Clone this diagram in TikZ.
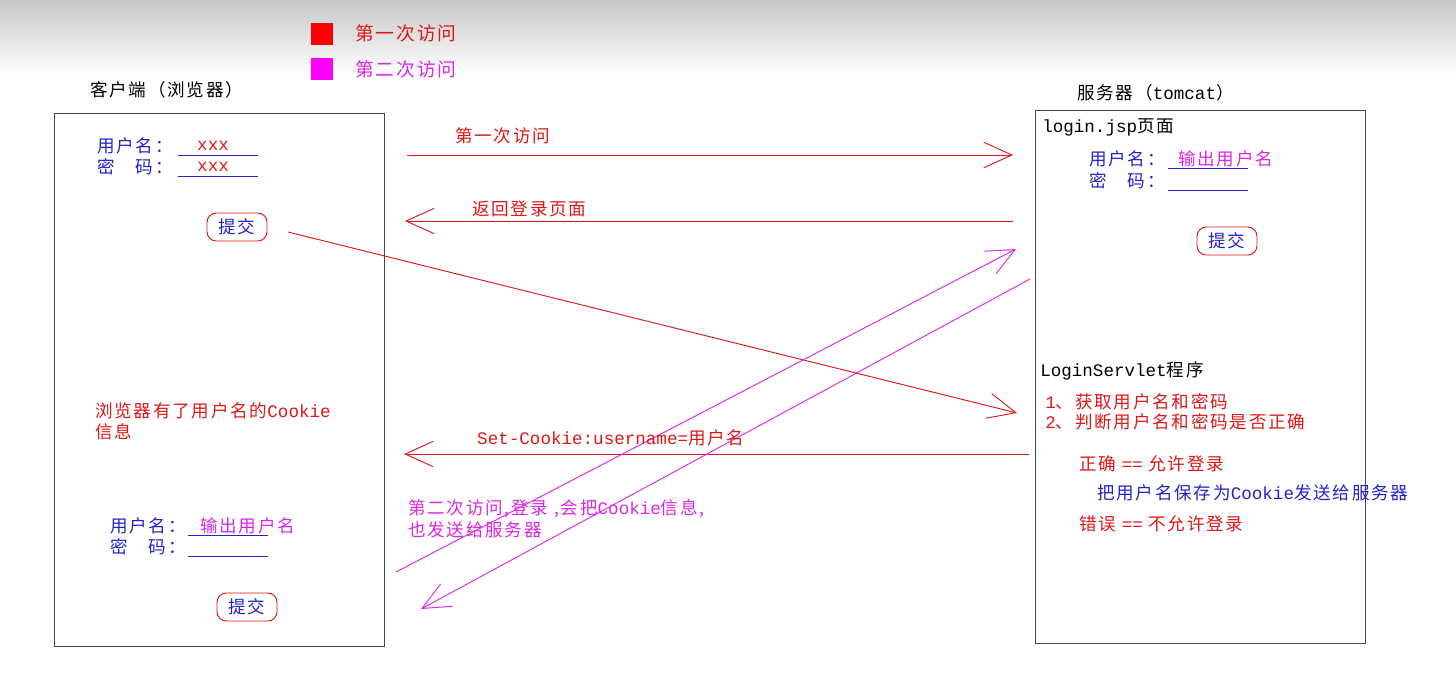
\documentclass[tikz,border=0pt]{standalone}
\usepackage{fontspec}
\setmainfont{Noto Sans CJK SC}[LetterSpace=10]
\newfontfamily\mono{Liberation Mono}
\usetikzlibrary{arrows.meta}
\definecolor{req}{RGB}{222,24,24}
\definecolor{second}{RGB}{218,40,228}
\definecolor{secondkeyfill}{RGB}{255,0,255}
\definecolor{field}{RGB}{36,36,196}
\definecolor{frame}{RGB}{72,72,72}
\tikzstyle{every picture}=[> = {Straight Barb[length=8.4mm,width=7.6mm]}]
\tikzstyle{txt}=[inner sep=0pt, anchor=west, font=\fontsize{15}{18}\selectfont]
\tikzstyle{key}=[inner sep=0pt, minimum size=6.6mm]
\tikzstyle{box}=[draw=frame, line width=0.8pt, inner sep=0pt, minimum width=9.9cm, minimum height=15.99cm]
\tikzstyle{btn}=[draw=req, line width=0.8pt, rounded corners=2.8mm, text=field, inner sep=0pt,
  minimum width=18mm, minimum height=8.4mm, font=\fontsize{15}{18}\selectfont]

\begin{document}
\begin{tikzpicture}[x=0.3mm,y=-0.3mm]
    \useasboundingbox (0,0) rectangle (1456,690);
    \fill[white] (0,0) rectangle (1456,690);
    \shade[top color=black!22,bottom color=white] (0,0) rectangle (1456,75);

    \node (firstkey) [key, fill=red] at (322,34) {};
    \node (secondkey) [key, fill=secondkeyfill] at (322,69) {};
    \node (firstkeytxt) [txt, text=req, font=\fontsize{16}{18}\selectfont] at (355,33) {第一次访问};
    \node (secondkeytxt) [txt, text=second, font=\fontsize{16}{18}\selectfont] at (355,69) {第二次访问};

    \node (clienttitle) [txt] at (90,90) {客户端（浏览器）};
    \node (servertitle) [txt] at (1077,93) {服务器（{\mono tomcat}）};
    \node (client) [box] at (219,379.5) {};
    \node (server) [box] at (1200,376.5) {};

    \node (user1) [txt, text=field] at (97,146) {用户名：};
    \node (pass1) [txt, text=field] at (97,167) {密　码：};
    \node (user1val) [txt, text=req] at (197,146) {\mono xxx};
    \node (pass1val) [txt, text=req] at (197,167) {\mono xxx};
    \draw[field, line width=0.8pt] (178,155) -- (258,155);
    \draw[field, line width=0.8pt] (178,176) -- (258,176);
    \node (submit1) [btn] at (237,227) {提交};

    \node (cookieinfo) [txt, text=req] at (95,411) {浏览器有了用户名的{\mono Cookie}};
    \node (cookieinfo2) [txt, text=req] at (95,432) {信息};
    \node (user3) [txt, text=field] at (110,526) {用户名：};
    \node (pass3) [txt, text=field] at (110,547) {密　码：};
    \node (user3val) [txt, text=second] at (200,526) {输出用户名};
    \draw[field, line width=0.8pt] (188,535) -- (268,535);
    \draw[field, line width=0.8pt] (188,556) -- (268,556);
    \node (submit3) [btn] at (247,607) {提交};

    \node (jsp) [txt] at (1042,127) {{\mono login.jsp}页面};
    \node (user2) [txt, text=field] at (1089,159) {用户名：};
    \node (pass2) [txt, text=field] at (1089,181) {密　码：};
    \node (user2val) [txt, text=second] at (1178,159) {输出用户名};
    \draw[field, line width=0.8pt] (1168,168) -- (1248,168);
    \draw[field, line width=0.8pt] (1168,190) -- (1248,190);
    \node (submit2) [btn] at (1227,241) {提交};

    \node (servlet) [txt] at (1040,371) {{\mono LoginServlet}程序};
    \node (step1) [txt, text=req] at (1045,402) {{\mono 1}、获取用户名和密码};
    \node (step2) [txt, text=req] at (1045,422) {{\mono 2}、判断用户名和密码是否正确};
    \node (okcase) [txt, text=req] at (1079,464) {正确 {\mono ==} 允许登录};
    \node (okstore) [txt, text=field] at (1097,493) {把用户名保存为{\mono Cookie}发送给服务器};
    \node (badcase) [txt, text=req] at (1079,524) {错误 {\mono ==} 不允许登录};

    \coordinate (visit1a) at (407,155);
    \coordinate (visit1b) at (1013,155);
    \coordinate (pagea) at (1013,221);
    \coordinate (pageb) at (405,221);
    \coordinate (submita) at (288,232);
    \coordinate (submitb) at (1017,413);
    \coordinate (setcookiea) at (1029,454);
    \coordinate (setcookieb) at (404,454);
    \coordinate (visit2a) at (396,572);
    \coordinate (visit2b) at (1016,249);
    \coordinate (visit2c) at (1030,279);
    \coordinate (visit2d) at (421,609);

    \draw[req, line width=0.8pt, ->] (visit1a) to (visit1b);
    \draw[req, line width=0.8pt, ->] (pagea) to (pageb);
    \draw[req, line width=0.8pt, ->] (submita) to (submitb);
    \draw[req, line width=0.8pt, ->] (setcookiea) to (setcookieb);
    \draw[second, line width=0.8pt, ->] (visit2a) to (visit2b);
    \draw[second, line width=0.8pt, ->] (visit2c) to (visit2d);

    \node (visit1txt) [txt, text=req] at (455,136) {第一次访问};
    \node (pagetxt) [txt, text=req] at (472,209) {返回登录页面};
    \node (setcookietxt) [txt, text=req] at (477,438) {{\mono Set-Cookie:username=}用户名};
    \node (visit2txt) [txt, text=second] at (408,509) {第二次访问,登录 ,会把{\mono Cookie}信息,};
    \node (visit2txt2) [txt, text=second] at (408,530) {也发送给服务器};
  \end{tikzpicture}
\end{document}
